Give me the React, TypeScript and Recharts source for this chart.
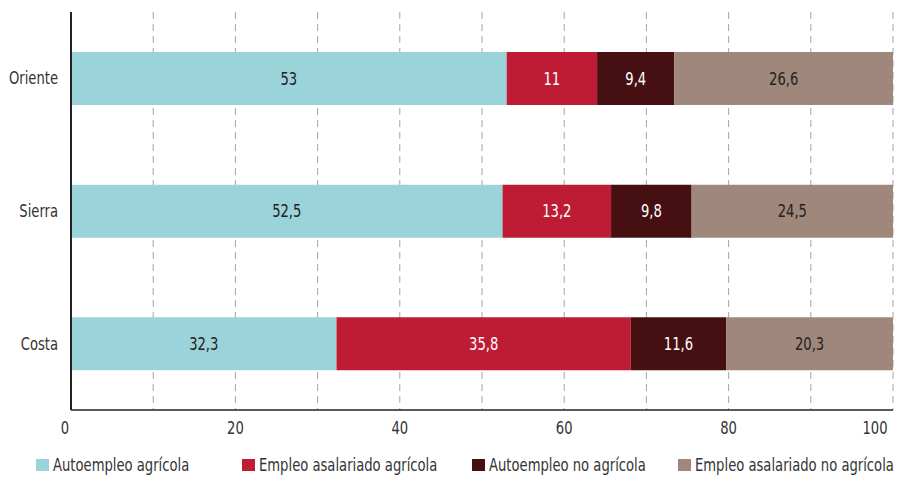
import { BarChart, Bar, XAxis, YAxis, CartesianGrid, LabelList } from 'recharts';

const regions = ['Oriente', 'Sierra', 'Costa'];
const autoAgricola = [53, 52.5, 32.3];
const asalAgricola = [11, 13.2, 35.8];
const autoNoAgricola = [9.4, 9.8, 11.6];
const asalNoAgricola = [26.6, 24.5, 20.3];
const xTicks = [0, 10, 20, 30, 40, 50, 60, 70, 80, 90, 100];

const FONT = '"DejaVu Sans Condensed", "Liberation Sans Narrow", sans-serif';
const SQUEEZE = 0.86;

const SERIES = [
  { key: 'auto_agr', name: 'Autoempleo agrícola', fill: '#9bd3db', text: '#222', left: 36 },
  { key: 'asal_agr', name: 'Empleo asalariado agrícola', fill: '#be1c35', text: '#fff', left: 242 },
  { key: 'auto_noagr', name: 'Autoempleo no agrícola', fill: '#461012', text: '#fff', left: 472 },
  { key: 'asal_noagr', name: 'Empleo asalariado no agrícola', fill: '#a0877c', text: '#222', left: 678 },
];

const data = regions.map((name, i) => ({
  name,
  auto_agr: autoAgricola[i],
  asal_agr: asalAgricola[i],
  auto_noagr: autoNoAgricola[i],
  asal_noagr: asalNoAgricola[i],
}));

const fmt = (v: any) => String(v).replace('.', ',');

// condensed-looking text: squeeze horizontally around its anchor point
function NarrowText({ x, y, anchor, fill, dy, children }: any) {
  return (
    <g transform={`translate(${x},${y}) scale(${SQUEEZE},1)`}>
      <text x={0} y={0} dy={dy} textAnchor={anchor} fill={fill} fontSize={17} fontFamily={FONT}>
        {children}
      </text>
    </g>
  );
}

function XTick({ x, y, payload }: any) {
  const v = payload.value;
  if (v % 20 !== 0) return null;
  const dx = v === 0 ? -6 : v === 100 ? -18 : 0;
  return <NarrowText x={x + dx} y={y} dy="0.71em" anchor="middle" fill="#333">{v}</NarrowText>;
}

function YTick({ x, y, payload }: any) {
  return <NarrowText x={x} y={y} dy="0.36em" anchor="end" fill="#333">{payload.value}</NarrowText>;
}

function makeLabel(color: string) {
  return (props: any) => {
    const { x, y, width, height, value } = props;
    return (
      <NarrowText x={x + width / 2} y={y + height / 2} dy="0.36em" anchor="middle" fill={color}>
        {fmt(value)}
      </NarrowText>
    );
  };
}

export default function App() {
  return (
    <div style={{ position: 'absolute', left: 0, top: 0, width: 899, height: 477, background: '#fff' }}>
      <BarChart
        width={899}
        height={477}
        data={data}
        layout="vertical"
        margin={{ top: 12, right: 6, left: 0, bottom: 37 }}
        barSize={53}
      >
        <CartesianGrid vertical horizontal={false} stroke="#a6a6a6" strokeDasharray="7 5" />
        <XAxis
          type="number"
          domain={[0, 100]}
          ticks={xTicks}
          interval={0}
          height={30}
          tickLine={false}
          tickSize={0}
          tickMargin={12}
          axisLine={{ stroke: '#222', strokeWidth: 1.5 }}
          tick={<XTick />}
        />
        <YAxis
          type="category"
          dataKey="name"
          width={71}
          tickLine={false}
          tickSize={0}
          tickMargin={13}
          axisLine={{ stroke: '#222', strokeWidth: 2 }}
          tick={<YTick />}
        />
        {SERIES.map((s) => (
          <Bar key={s.key} dataKey={s.key} name={s.name} stackId="a" fill={s.fill} isAnimationActive={false}>
            <LabelList dataKey={s.key} content={makeLabel(s.text)} />
          </Bar>
        ))}
      </BarChart>
      {SERIES.map((s) => (
        <div
          key={s.key}
          style={{
            position: 'absolute',
            left: s.left,
            top: 455,
            display: 'flex',
            alignItems: 'center',
            fontFamily: FONT,
            fontSize: 17,
            color: '#333',
            whiteSpace: 'nowrap',
          }}
        >
          <span style={{ display: 'inline-block', width: 13, height: 12, background: s.fill, marginRight: 4 }} />
          <span style={{ display: 'inline-block', transform: `scaleX(${SQUEEZE})`, transformOrigin: 'left center' }}>
            {s.name}
          </span>
        </div>
      ))}
    </div>
  );
}
